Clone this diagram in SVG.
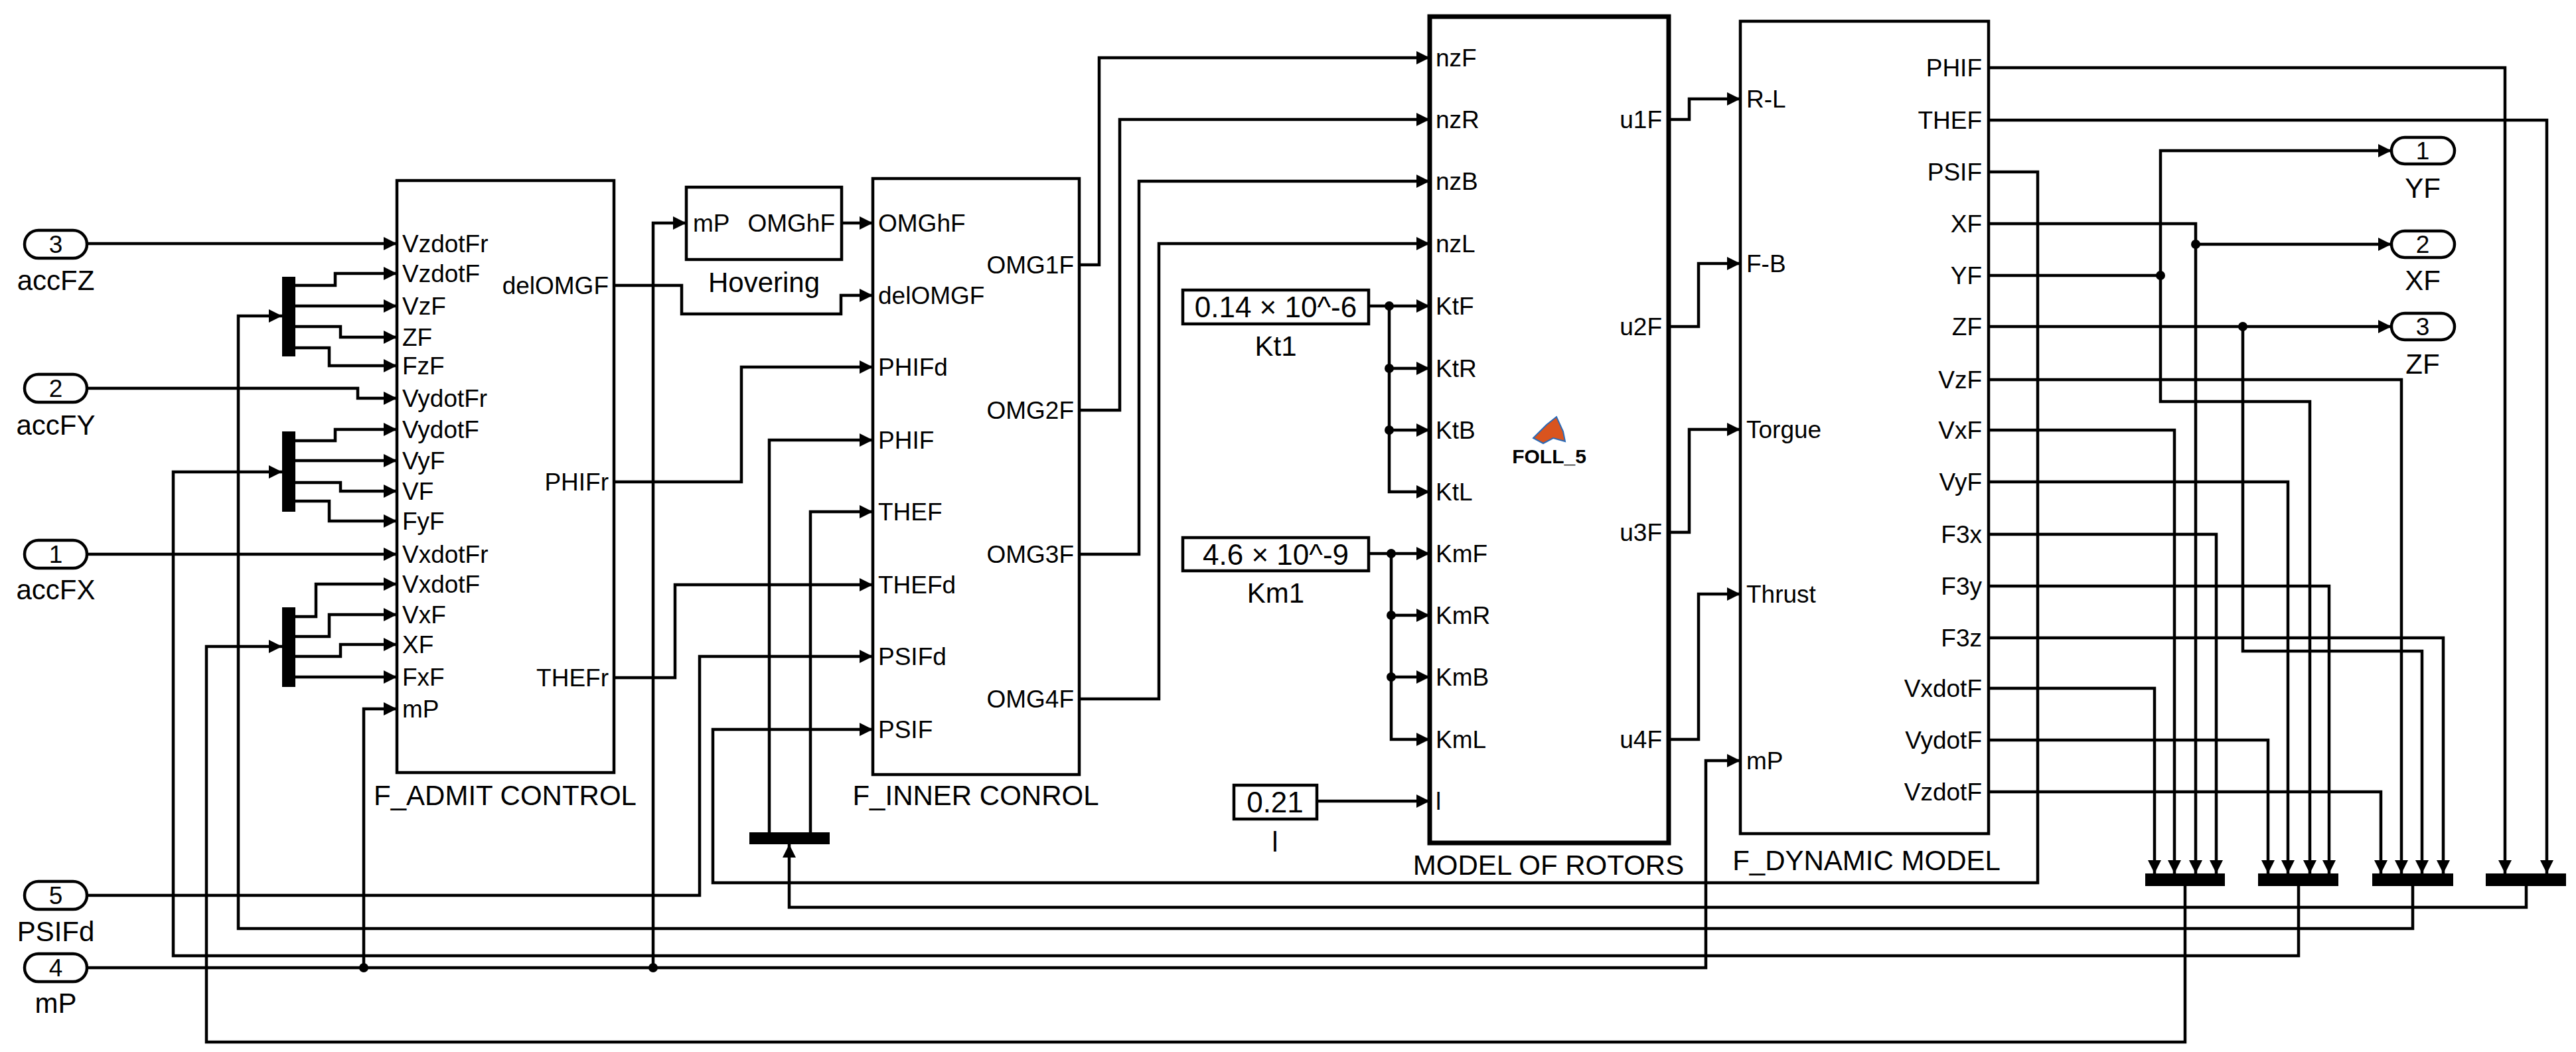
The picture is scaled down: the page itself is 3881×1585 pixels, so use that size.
<svg xmlns="http://www.w3.org/2000/svg" width="3881" height="1585" viewBox="0 0 3881 1585">
<style>
text{font-family:"Liberation Sans",Arial,sans-serif;font-size:37px;fill:#000}
.t{font-size:42px}
.c{font-size:44px}
.e{text-anchor:end}
.m{text-anchor:middle}
.b{fill:#fff;stroke:#000;stroke-width:4.5}
.w{fill:none;stroke:#000;stroke-width:4.5}
.a{marker-end:url(#ar)}
.bar{fill:#000}
</style>
<defs>
<marker id="ar" viewBox="0 0 10 10" refX="10" refY="5" markerUnits="userSpaceOnUse" markerWidth="24" markerHeight="20" orient="auto"><path d="M0,0L10,5L0,10z" fill="#000"/></marker>
</defs>
<rect width="3881" height="1585" fill="#fff"/>
<g id="connectors" class="w">
<polyline class="a" points="131,367 598,367"/>
<polyline class="a" points="445,430 505,430 505,412 598,412"/>
<polyline class="a" points="445,461 598,461"/>
<polyline class="a" points="445,492 513,492 513,508 598,508"/>
<polyline class="a" points="445,524 496,524 496,551 598,551"/>
<polyline class="a" points="131,585 539,585 539,600 598,600"/>
<polyline class="a" points="445,664 505,664 505,647 598,647"/>
<polyline class="a" points="445,694 598,694"/>
<polyline class="a" points="445,727 513,727 513,740 598,740"/>
<polyline class="a" points="445,755 496,755 496,785 598,785"/>
<polyline class="a" points="131,835 598,835"/>
<polyline class="a" points="445,929 476,929 476,880 598,880"/>
<polyline class="a" points="445,959 496,959 496,926 598,926"/>
<polyline class="a" points="445,989 513,989 513,971 598,971"/>
<polyline class="a" points="445,1020 598,1020"/>
<polyline class="a" points="3635,1335 3635,1399 359,1399 359,476 425,476"/>
<polyline class="a" points="3463,1335 3463,1440 261,1440 261,711 425,711"/>
<polyline class="a" points="3292,1335 3292,1570 311,1570 311,974 425,974"/>
<polyline class="a" points="1268,336 1315,336"/>
<polyline class="a" points="925,430 1027,430 1027,473 1267,473 1267,445 1315,445"/>
<polyline class="a" points="925,726 1117,726 1117,553 1315,553"/>
<polyline class="a" points="925,1021 1017,1021 1017,881 1315,881"/>
<polyline class="a" points="131,1349 1054,1349 1054,989 1315,989"/>
<polyline class="a" points="131,1458 2570,1458 2570,1146 2622,1146"/>
<polyline class="a" points="548,1458 548,1068 598,1068"/>
<polyline class="a" points="984,1458 984,336 1034,336"/>
<polyline class="a" points="1159,1254 1159,663 1315,663"/>
<polyline class="a" points="1221,1254 1221,771 1315,771"/>
<polyline class="a" points="3806,1335 3806,1367 1189,1367 1189,1272"/>
<polyline class="a" points="2996,259 3070,259 3070,1330 1074,1330 1074,1099 1315,1099"/>
<polyline class="a" points="1626,399 1656,399 1656,87 2154,87"/>
<polyline class="a" points="1626,618 1687,618 1687,180 2154,180"/>
<polyline class="a" points="1626,835 1716,835 1716,273 2154,273"/>
<polyline class="a" points="1626,1053 1746,1053 1746,367 2154,367"/>
<polyline class="a" points="2062,461 2154,461"/>
<polyline class="a" points="2093,461 2093,741 2154,741"/>
<polyline class="a" points="2093,555 2154,555"/>
<polyline class="a" points="2093,648 2154,648"/>
<polyline class="a" points="2062,834 2154,834"/>
<polyline class="a" points="2096,834 2096,1114 2154,1114"/>
<polyline class="a" points="2096,927 2154,927"/>
<polyline class="a" points="2096,1020 2154,1020"/>
<polyline class="a" points="1984,1207 2154,1207"/>
<polyline class="a" points="2514,180 2545,180 2545,149 2622,149"/>
<polyline class="a" points="2514,492 2559,492 2559,397 2622,397"/>
<polyline class="a" points="2514,802 2545,802 2545,647 2622,647"/>
<polyline class="a" points="2514,1114 2559,1114 2559,895 2622,895"/>
<polyline class="a" points="2996,102 3774,102 3774,1316"/>
<polyline class="a" points="2996,181 3837,181 3837,1316"/>
<polyline class="a" points="2996,337 3308,337 3308,1316"/>
<polyline class="a" points="3308,368 3603,368"/>
<polyline points="2996,415 3255,415"/>
<polyline class="a" points="3255,415 3255,227 3603,227"/>
<polyline class="a" points="3255,415 3255,605 3480,605 3480,1316"/>
<polyline class="a" points="2996,492 3603,492"/>
<polyline class="a" points="3379,492 3379,981 3649,981 3649,1316"/>
<polyline class="a" points="2996,572 3618,572 3618,1316"/>
<polyline class="a" points="2996,648 3276,648 3276,1316"/>
<polyline class="a" points="2996,726 3447,726 3447,1316"/>
<polyline class="a" points="2996,805 3339,805 3339,1316"/>
<polyline class="a" points="2996,883 3509,883 3509,1316"/>
<polyline class="a" points="2996,961 3681,961 3681,1316"/>
<polyline class="a" points="2996,1037 3246,1037 3246,1316"/>
<polyline class="a" points="2996,1115 3417,1115 3417,1316"/>
<polyline class="a" points="2996,1193 3587,1193 3587,1316"/>
<g fill="#000" stroke="none">
<circle cx="548" cy="1458" r="7"/><circle cx="984" cy="1458" r="7"/>
<circle cx="2093" cy="461" r="7"/><circle cx="2093" cy="555" r="7"/><circle cx="2093" cy="648" r="7"/>
<circle cx="2096" cy="834" r="7"/><circle cx="2096" cy="927" r="7"/><circle cx="2096" cy="1020" r="7"/>
<circle cx="3255" cy="415" r="7"/><circle cx="3308" cy="368" r="7"/><circle cx="3379" cy="492" r="7"/>
</g>
</g>
<g id="in3"><rect class="b" x="37" y="347" width="94" height="42" rx="21"/><text class="m" x="84" y="381">3</text><text class="m t" x="84" y="437">accFZ</text></g>
<g id="in2"><rect class="b" x="37" y="564" width="94" height="42" rx="21"/><text class="m" x="84" y="598">2</text><text class="m t" x="84" y="655">accFY</text></g>
<g id="in1"><rect class="b" x="37" y="814" width="94" height="42" rx="21"/><text class="m" x="84" y="848">1</text><text class="m t" x="84" y="903">accFX</text></g>
<g id="in5"><rect class="b" x="37" y="1328" width="94" height="42" rx="21"/><text class="m" x="84" y="1362">5</text><text class="m t" x="84" y="1418">PSIFd</text></g>
<g id="in4"><rect class="b" x="37" y="1437" width="94" height="42" rx="21"/><text class="m" x="84" y="1471">4</text><text class="m t" x="84" y="1526">mP</text></g>
<g id="demuxZ"><rect class="bar" x="425" y="417" width="20" height="120"/></g>
<g id="demuxY"><rect class="bar" x="425" y="650" width="20" height="121"/></g>
<g id="demuxX"><rect class="bar" x="425" y="915" width="20" height="120"/></g>
<g id="admit">
<rect class="b" x="598" y="272" width="327" height="892"/>
<text x="606" y="380">VzdotFr</text><text x="606" y="425">VzdotF</text><text x="606" y="474">VzF</text><text x="606" y="521">ZF</text><text x="606" y="564">FzF</text><text x="606" y="613">VydotFr</text><text x="606" y="660">VydotF</text><text x="606" y="707">VyF</text><text x="606" y="753">VF</text><text x="606" y="798">FyF</text><text x="606" y="848">VxdotFr</text><text x="606" y="893">VxdotF</text><text x="606" y="939">VxF</text><text x="606" y="984">XF</text><text x="606" y="1033">FxF</text><text x="606" y="1081">mP</text>
<text class="e" x="917" y="443">delOMGF</text><text class="e" x="917" y="739">PHIFr</text><text class="e" x="917" y="1034">THEFr</text>
<text class="m t" x="761" y="1213">F_ADMIT CONTROL</text>
</g>
<g id="hovering">
<rect class="b" x="1034" y="282" width="234" height="109"/>
<text x="1044" y="349">mP</text><text class="e" x="1258" y="349">OMGhF</text>
<text class="m t" x="1151" y="440">Hovering</text>
</g>
<g id="inner">
<rect class="b" x="1315" y="269" width="311" height="898"/>
<text x="1323" y="349">OMGhF</text><text x="1323" y="458">delOMGF</text><text x="1323" y="566">PHIFd</text><text x="1323" y="676">PHIF</text><text x="1323" y="784">THEF</text><text x="1323" y="894">THEFd</text><text x="1323" y="1002">PSIFd</text><text x="1323" y="1112">PSIF</text>
<text class="e" x="1618" y="412">OMG1F</text><text class="e" x="1618" y="631">OMG2F</text><text class="e" x="1618" y="848">OMG3F</text><text class="e" x="1618" y="1066">OMG4F</text>
<text class="m t" x="1470" y="1213">F_INNER CONROL</text>
</g>
<g id="demuxPT"><rect class="bar" x="1129" y="1254" width="121" height="18"/></g>
<g id="kt1"><rect class="b" x="1782" y="437" width="280" height="51"/><text class="m c" x="1922" y="478">0.14 × 10^-6</text><text class="m t" x="1922" y="536">Kt1</text></g>
<g id="km1"><rect class="b" x="1782" y="810" width="280" height="50"/><text class="m c" x="1922" y="851">4.6 × 10^-9</text><text class="m t" x="1922" y="908">Km1</text></g>
<g id="l"><rect class="b" x="1859" y="1183" width="125" height="51"/><text class="m c" x="1921" y="1224">0.21</text><text class="m t" x="1921" y="1283">l</text></g>
<g id="rotors">
<rect x="2154" y="25" width="360" height="1245" fill="#fff" stroke="#000" stroke-width="7"/>
<text x="2163" y="100">nzF</text><text x="2163" y="193">nzR</text><text x="2163" y="286">nzB</text><text x="2163" y="380">nzL</text><text x="2163" y="474">KtF</text><text x="2163" y="568">KtR</text><text x="2163" y="661">KtB</text><text x="2163" y="754">KtL</text><text x="2163" y="847">KmF</text><text x="2163" y="940">KmR</text><text x="2163" y="1033">KmB</text><text x="2163" y="1127">KmL</text><text x="2163" y="1220">l</text>
<text class="e" x="2504" y="193">u1F</text><text class="e" x="2504" y="505">u2F</text><text class="e" x="2504" y="815">u3F</text><text class="e" x="2504" y="1127">u4F</text>
<path d="M2310,660 L2330,640 L2345,628 L2355,650 L2358,665 L2340,660 L2325,668 Z" fill="#d9541e" stroke="#2a6bb8" stroke-width="2"/>
<text class="m" x="2334" y="698" style="font-size:30px;font-weight:bold">FOLL_5</text>
<text class="m t" x="2333" y="1318">MODEL OF ROTORS</text>
</g>
<g id="dynamic">
<rect class="b" x="2622" y="32" width="374" height="1224"/>
<text x="2631" y="162">R-L</text><text x="2631" y="410">F-B</text><text x="2631" y="660">Torgue</text><text x="2631" y="908">Thrust</text><text x="2631" y="1159">mP</text>
<text class="e" x="2986" y="115">PHIF</text><text class="e" x="2986" y="194">THEF</text><text class="e" x="2986" y="272">PSIF</text><text class="e" x="2986" y="350">XF</text><text class="e" x="2986" y="428">YF</text><text class="e" x="2986" y="505">ZF</text><text class="e" x="2986" y="585">VzF</text><text class="e" x="2986" y="661">VxF</text><text class="e" x="2986" y="739">VyF</text><text class="e" x="2986" y="818">F3x</text><text class="e" x="2986" y="896">F3y</text><text class="e" x="2986" y="974">F3z</text><text class="e" x="2986" y="1050">VxdotF</text><text class="e" x="2986" y="1128">VydotF</text><text class="e" x="2986" y="1206">VzdotF</text>
<text class="m t" x="2812" y="1311">F_DYNAMIC MODEL</text>
</g>
<g id="mux1"><rect class="bar" x="3232" y="1316" width="120" height="19"/></g>
<g id="mux2"><rect class="bar" x="3402" y="1316" width="121" height="19"/></g>
<g id="mux3"><rect class="bar" x="3574" y="1316" width="122" height="19"/></g>
<g id="mux4"><rect class="bar" x="3745" y="1316" width="121" height="19"/></g>
<g id="outYF"><rect class="b" x="3603" y="207" width="95" height="40" rx="20"/><text class="m" x="3650" y="240">1</text><text class="m t" x="3650" y="298">YF</text></g>
<g id="outXF"><rect class="b" x="3603" y="348" width="95" height="40" rx="20"/><text class="m" x="3650" y="381">2</text><text class="m t" x="3650" y="437">XF</text></g>
<g id="outZF"><rect class="b" x="3603" y="472" width="95" height="40" rx="20"/><text class="m" x="3650" y="505">3</text><text class="m t" x="3650" y="563">ZF</text></g>
</svg>
